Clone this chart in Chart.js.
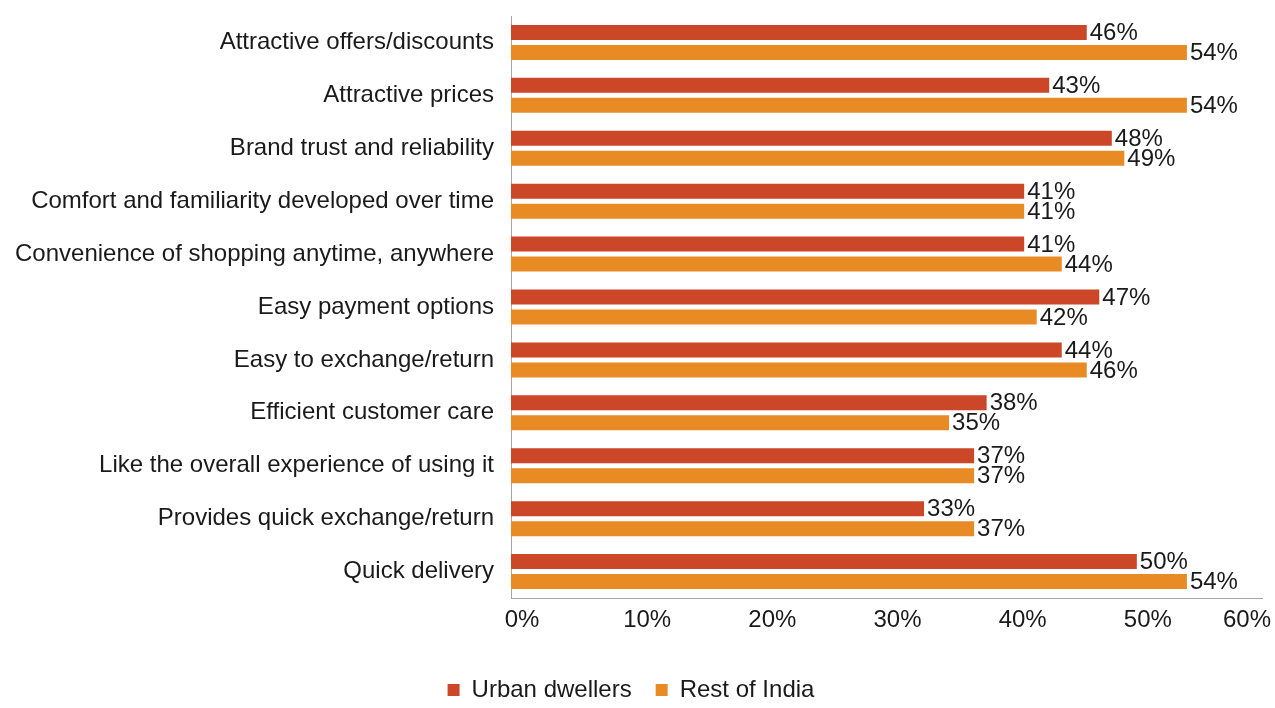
<!DOCTYPE html>
<html>
<head>
<meta charset="utf-8">
<script src="https://cdn.jsdelivr.net/npm/chart.js@4.4.1/dist/chart.umd.min.js"></script>
<style>
  html, body { margin: 0; padding: 0; background: #fff; }
  #wrap { width: 1275px; height: 708px; }
</style>
</head>
<body>
<div id="wrap"><canvas id="myChart" width="1275" height="708"></canvas></div>
<script>
// data
var categories = [
  'Attractive offers/discounts',
  'Attractive prices',
  'Brand trust and reliability',
  'Comfort and familiarity developed over time',
  'Convenience of shopping anytime, anywhere',
  'Easy payment options',
  'Easy to exchange/return',
  'Efficient customer care',
  'Like the overall experience of using it',
  'Provides quick exchange/return',
  'Quick delivery'
];
var urbanDwellers = [46, 43, 48, 41, 41, 47, 44, 38, 37, 33, 50];
var restOfIndia = [54, 54, 49, 41, 44, 42, 46, 35, 37, 37, 54];
var xTicks = [0, 10, 20, 30, 40, 50, 60];

var FONT = '"Liberation Sans", Arial, Helvetica, sans-serif';
var FSIZE = 24;
var TXT = '#1a1a1a';

// value labels at the end of each bar
var barLabels = {
  id: 'barLabels',
  afterDatasetsDraw: function (chart) {
    var ctx = chart.ctx;
    ctx.save();
    ctx.font = FSIZE + 'px ' + FONT;
    ctx.fillStyle = TXT;
    ctx.textAlign = 'left';
    ctx.textBaseline = 'middle';
    chart.data.datasets.forEach(function (ds, i) {
      chart.getDatasetMeta(i).data.forEach(function (bar, j) {
        ctx.fillText(ds.data[j] + '%', bar.x + 3, bar.y + 1);
      });
    });
    ctx.restore();
  }
};

// x tick labels, nudged right like the original
var xLabels = {
  id: 'xLabels',
  afterDraw: function (chart) {
    var ctx = chart.ctx, sx = chart.scales.x;
    ctx.save();
    ctx.font = FSIZE + 'px ' + FONT;
    ctx.fillStyle = TXT;
    ctx.textAlign = 'center';
    ctx.textBaseline = 'middle';
    xTicks.forEach(function (v) {
      var t = v + '%';
      var w = ctx.measureText(t).width;
      var px = Math.min(sx.getPixelForValue(v) + 11, chart.width - w / 2 - 4);
      ctx.fillText(t, px, sx.top + 22);
    });
    ctx.restore();
  }
};

var ctx = document.getElementById('myChart').getContext('2d');
var myChart = new Chart(ctx, {
  type: 'bar',
  data: {
    labels: categories,
    datasets: [{
      label: 'Urban dwellers',
      data: urbanDwellers,
      backgroundColor: '#cc4628',
      categoryPercentage: 0.756,
      barPercentage: 0.75
    }, {
      label: 'Rest of India',
      data: restOfIndia,
      backgroundColor: '#e98b25',
      categoryPercentage: 0.756,
      barPercentage: 0.75
    }]
  },
  options: {
    indexAxis: 'y',
    responsive: false,
    devicePixelRatio: 1,
    animation: false,
    layout: { padding: { top: 16, right: 13, left: 0, bottom: -4 } },
    scales: {
      x: {
        min: 0,
        max: 60,
        grid: { display: false },
        border: { display: true, color: '#a6a6a6', width: 1 },
        ticks: { display: false },
        afterFit: function (scale) { scale.height = 56; }
      },
      y: {
        grid: { display: false },
        border: { display: true, color: '#a6a6a6', width: 1 },
        ticks: {
          color: TXT,
          padding: 9,
          font: { family: FONT, size: FSIZE }
        },
        afterFit: function (scale) {
          scale.width = 511;
          scale.paddingTop = 0;
        }
      }
    },
    plugins: {
      legend: {
        position: 'bottom',
        labels: {
          boxWidth: 12,
          boxHeight: 12,
          padding: 24,
          color: TXT,
          font: { family: FONT, size: FSIZE }
        }
      },
      tooltip: { enabled: false }
    }
  },
  plugins: [barLabels, xLabels]
});
</script>
</body>
</html>
